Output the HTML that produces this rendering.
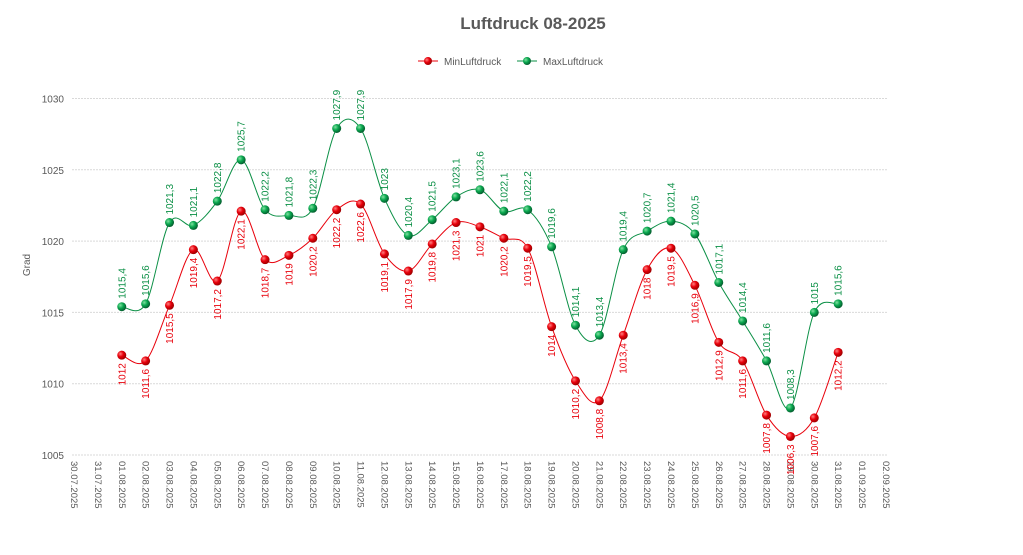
<!DOCTYPE html><html><head><meta charset="utf-8"><style>body{margin:0;background:#fff}svg{display:block;font-family:"Liberation Sans",sans-serif}</style></head><body>
<svg id="s" width="1023" height="555" xmlns="http://www.w3.org/2000/svg">
<defs>
<radialGradient id="gr" cx="35%" cy="35%" r="65%"><stop offset="0" stop-color="#ff8080"/><stop offset="0.5" stop-color="#e8000b"/><stop offset="1" stop-color="#a00000"/></radialGradient>
<radialGradient id="gg" cx="35%" cy="35%" r="65%"><stop offset="0" stop-color="#80e0a0"/><stop offset="0.5" stop-color="#0aa84f"/><stop offset="1" stop-color="#056030"/></radialGradient>
</defs>
<text x="533" y="29" text-anchor="middle" font-size="17" font-weight="bold" fill="#595959">Luftdruck 08-2025</text>
<line x1="418" y1="61" x2="438" y2="61" stroke="#e8000b"/><circle cx="428" cy="61" r="4" fill="url(#gr)"/>
<text x="444" y="65" font-size="10" fill="#595959">MinLuftdruck</text>
<line x1="517" y1="61" x2="537" y2="61" stroke="#0a8f45"/><circle cx="527" cy="61" r="4" fill="url(#gg)"/>
<text x="543" y="65" font-size="10" fill="#595959">MaxLuftdruck</text>
<text transform="translate(30,265) rotate(-90)" text-anchor="middle" font-size="10" fill="#595959">Grad</text>
<g id="g"></g>
</svg>
<script>
var mx=[1015.4,1015.6,1021.3,1021.1,1022.8,1025.7,1022.2,1021.8,1022.3,1027.9,1027.9,1023,1020.4,1021.5,1023.1,1023.6,1022.1,1022.2,1019.6,1014.1,1013.4,1019.4,1020.7,1021.4,1020.5,1017.1,1014.4,1011.6,1008.3,1015,1015.6];
var mn=[1012,1011.6,1015.5,1019.4,1017.2,1022.1,1018.7,1019,1020.2,1022.2,1022.6,1019.1,1017.9,1019.8,1021.3,1021,1020.2,1019.5,1014,1010.2,1008.8,1013.4,1018,1019.5,1016.9,1012.9,1011.6,1007.8,1006.3,1007.6,1012.2];
function X(i){return 74+23.88*i}function Y(v){return 455-(v-1005)*14.26}
var h='';
for(var v=1005;v<=1030;v+=5){var y=Y(v);h+='<line x1="72" x2="887" y1="'+y+'" y2="'+y+'" stroke="#d9d9d9" stroke-dasharray="2,1"/><text x="64" y="'+(y+4)+'" text-anchor="end" font-size="10" fill="#595959">'+v+'</text>';}
for(var i=0;i<=34;i++){var d=new Date(2025,6,30+i);var s=('0'+d.getDate()).slice(-2)+'.'+('0'+(d.getMonth()+1)).slice(-2)+'.2025';
h+='<text transform="translate('+(X(i)-3)+',461) rotate(90)" font-size="9.5" fill="#595959">'+s+'</text>';}
function path(a){var p=a.map(function(v,i){return[X(i+2),Y(v)]});var d='M'+p[0];for(var i=0;i<p.length-1;i++){var p0=p[i-1]||p[i],p1=p[i],p2=p[i+1],p3=p[i+2]||p2;var t=1/6;
d+=' C'+(p1[0]+(p2[0]-p0[0])*t)+','+(p1[1]+(p2[1]-p0[1])*t)+' '+(p2[0]-(p3[0]-p1[0])*t)+','+(p2[1]-(p3[1]-p1[1])*t)+' '+p2;}return d}
h+='<path d="'+path(mn)+'" fill="none" stroke="#e8000b" stroke-width="1"/>';
h+='<path d="'+path(mx)+'" fill="none" stroke="#0a8f45" stroke-width="1"/>';
function f(v){return String(v).replace('.',',')}
mn.forEach(function(v,i){var x=X(i+2),y=Y(v);h+='<circle cx="'+x+'" cy="'+y+'" r="4.5" fill="url(#gr)"/><text transform="translate('+(x+3.5)+','+(y+8)+') rotate(-90)" text-anchor="end" font-size="10" fill="#e8000b">'+f(v)+'</text>';});
mx.forEach(function(v,i){var x=X(i+2),y=Y(v);h+='<circle cx="'+x+'" cy="'+y+'" r="4.5" fill="url(#gg)"/><text transform="translate('+(x+3.5)+','+(y-8)+') rotate(-90)" font-size="10" fill="#0a8f45">'+f(v)+'</text>';});
document.getElementById('g').innerHTML=h;
</script></body></html>
